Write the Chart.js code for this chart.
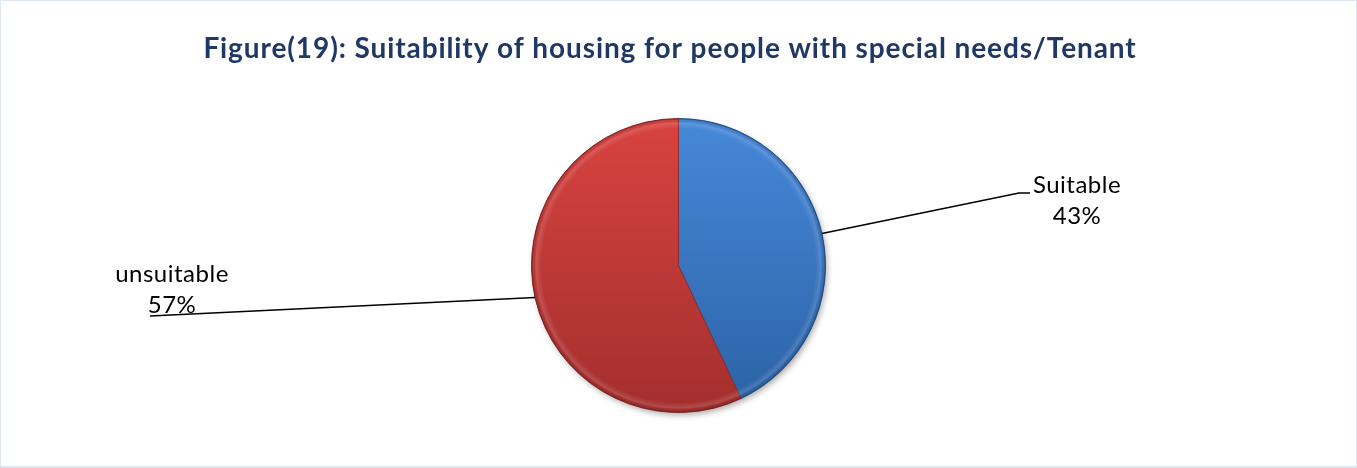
<!DOCTYPE html>
<html>
<head>
<meta charset="utf-8">
<title>Figure(19)</title>
<script src="https://cdn.jsdelivr.net/npm/chart.js@4.4.1/dist/chart.umd.min.js"></script>
<style>
  html, body { margin: 0; padding: 0; background: #fff; }
  #wrap { width: 1357px; height: 468px; }
</style>
</head>
<body>
<div id="wrap"><canvas id="pieChart" width="1357" height="468"></canvas></div>
<script>
const titleText = 'Figure(19): Suitability of housing for people with special needs/Tenant';
const categories = ['Suitable', 'unsuitable'];
const shares = [43, 57];
const percentLabels = ['43%', '57%'];

// gradient stops per slice (top -> bottom) and edge colour
const sliceTop = ['#4788d9', '#d84340'];
const sliceBottom = ['#2c62a5', '#a32f2e'];
const sliceEdge = ['#2a5a94', '#8c2c2a'];

// label text centre / first baseline and the bend + end of each leader line
const labelSpots = [
  { x: 1077, y: 193, path: [[1019, 193], [1030, 193]] },
  { x: 172, y: 282, path: [[150, 316]] }
];

function pieBox(chart) {
  const a = chart.chartArea;
  return { x: (a.left + a.right) / 2, y: (a.top + a.bottom) / 2, r: Math.min(a.width, a.height) / 2 };
}

function sliceFill(ctx) {
  const chart = ctx.chart;
  if (!chart.chartArea) return sliceTop[ctx.dataIndex];
  const p = pieBox(chart);
  const g = chart.ctx.createLinearGradient(0, p.y - p.r, 0, p.y + p.r);
  g.addColorStop(0, sliceTop[ctx.dataIndex]);
  g.addColorStop(1, sliceBottom[ctx.dataIndex]);
  return g;
}

// white page with thin frame, soft shadow under the pie
const backdrop = {
  id: 'backdrop',
  beforeDraw(chart) {
    const c = chart.ctx;
    c.save();
    c.fillStyle = '#fff';
    c.fillRect(0, 0, chart.width, chart.height);
    c.strokeStyle = '#dde5f0';
    c.lineWidth = 2;
    c.strokeRect(0, 0, chart.width, chart.height - 1);
    c.restore();
  },
  beforeDatasetsDraw(chart) {
    const p = pieBox(chart);
    const c = chart.ctx;
    c.save();
    c.shadowColor = 'rgba(0,0,0,0.35)';
    c.shadowBlur = 6;
    c.shadowOffsetX = 2;
    c.shadowOffsetY = 3;
    c.fillStyle = '#8a3a3a';
    c.beginPath();
    c.arc(p.x, p.y, p.r - 1, 0, Math.PI * 2);
    c.fill();
    c.restore();
  }
};

// bevelled rim on each slice
const bevel = {
  id: 'bevel',
  afterDatasetsDraw(chart) {
    const c = chart.ctx;
    chart.getDatasetMeta(0).data.forEach(arc => {
      const r = arc.outerRadius;
      const rim = c.createRadialGradient(arc.x, arc.y, r - 10, arc.x, arc.y, r);
      rim.addColorStop(0, 'rgba(255,255,255,0)');
      rim.addColorStop(0.55, 'rgba(255,255,255,0.14)');
      rim.addColorStop(0.8, 'rgba(0,0,0,0.03)');
      rim.addColorStop(1, 'rgba(0,0,0,0.3)');
      c.save();
      c.beginPath();
      c.moveTo(arc.x, arc.y);
      c.arc(arc.x, arc.y, r, arc.startAngle, arc.endAngle);
      c.closePath();
      c.fillStyle = rim;
      c.fill();
      c.restore();
    });
  }
};

// title, leader lines and category labels
const annotate = {
  id: 'annotate',
  afterDraw(chart) {
    const c = chart.ctx;
    c.save();
    c.fillStyle = '#1f3864';
    c.font = 'bold 28px Lato, "Open Sans", sans-serif';
    c.letterSpacing = '0.9px';
    c.textAlign = 'center';
    c.textBaseline = 'alphabetic';
    c.fillText(titleText, 670, 58);

    c.letterSpacing = '0.5px';
    chart.getDatasetMeta(0).data.forEach((arc, i) => {
      const mid = (arc.startAngle + arc.endAngle) / 2;
      const spot = labelSpots[i];
      c.strokeStyle = '#000';
      c.lineWidth = 1.5;
      c.beginPath();
      c.moveTo(arc.x + Math.cos(mid) * arc.outerRadius, arc.y + Math.sin(mid) * arc.outerRadius);
      spot.path.forEach(pt => c.lineTo(pt[0], pt[1]));
      c.stroke();

      c.fillStyle = '#000';
      c.font = '24px Lato, "Open Sans", sans-serif';
      c.fillText(categories[i], spot.x, spot.y);
      c.fillText(percentLabels[i], spot.x, spot.y + 31);
    });
    c.restore();
  }
};

new Chart(document.getElementById('pieChart'), {
  type: 'pie',
  data: {
    labels: categories,
    datasets: [{
      data: shares,
      backgroundColor: sliceFill,
      borderColor: sliceEdge,
      borderWidth: 1
    }]
  },
  options: {
    responsive: false,
    devicePixelRatio: 1,
    animation: false,
    events: [],
    layout: { padding: { top: 118, bottom: 55, left: 0, right: 0 } },
    plugins: { legend: { display: false }, tooltip: { enabled: false }, title: { display: false } }
  },
  plugins: [backdrop, bevel, annotate]
});
</script>
</body>
</html>
